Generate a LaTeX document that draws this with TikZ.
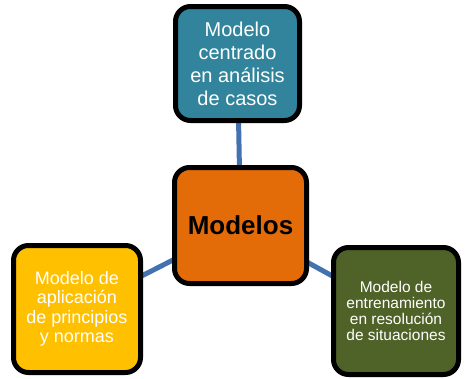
\documentclass[tikz,border=0pt]{standalone}
\usepackage{fontspec}
\setmainfont{Liberation Sans}
\usetikzlibrary{backgrounds}
\definecolor{teal1}{HTML}{31849B}
\definecolor{orange1}{HTML}{E36C09}
\definecolor{gold1}{HTML}{FFC000}
\definecolor{olive1}{HTML}{4F6228}
\definecolor{link1}{HTML}{4472B0}
\begin{document}
\begin{tikzpicture}[x=1pt,y=-1pt,
  box/.style={draw=black,line width=5pt,rounded corners=15pt,inner sep=0pt,align=center},
  link/.style={draw=link1,line width=5pt}]
\useasboundingbox (0,0) rectangle (466,378);
\node[box,fill=teal1,minimum width=124pt,minimum height=114pt,text=white,
  font=\fontsize{20}{23}\selectfont] (top) at (237.5,63.5)
  {Modelo\\centrado\\en análisis\\de casos};
\node[box,fill=orange1,minimum width=132pt,minimum height=116pt,
  font=\fontsize{26}{30}\selectfont\bfseries] (mid) at (240.5,225.5)
  {Modelos};
\node[box,fill=gold1,minimum width=127pt,minimum height=127pt,text=white,
  font=\fontsize{18}{19.5}\selectfont] (left) at (77,309)
  {Modelo de\\aplicación\\de principios\\y normas};
\node[box,fill=olive1,minimum width=125pt,minimum height=127pt,text=white,
  font=\fontsize{15.5}{16}\selectfont] (right) at (396,311)
  {Modelo de\\entrenamiento\\en resolución\\de situaciones};
\begin{scope}[on background layer]
\draw[link] (top.center) -- (mid.center);
\draw[link] (left.center) -- (mid.center);
\draw[link] (right.center) -- (mid.center);
\end{scope}
\end{tikzpicture}
\end{document}
